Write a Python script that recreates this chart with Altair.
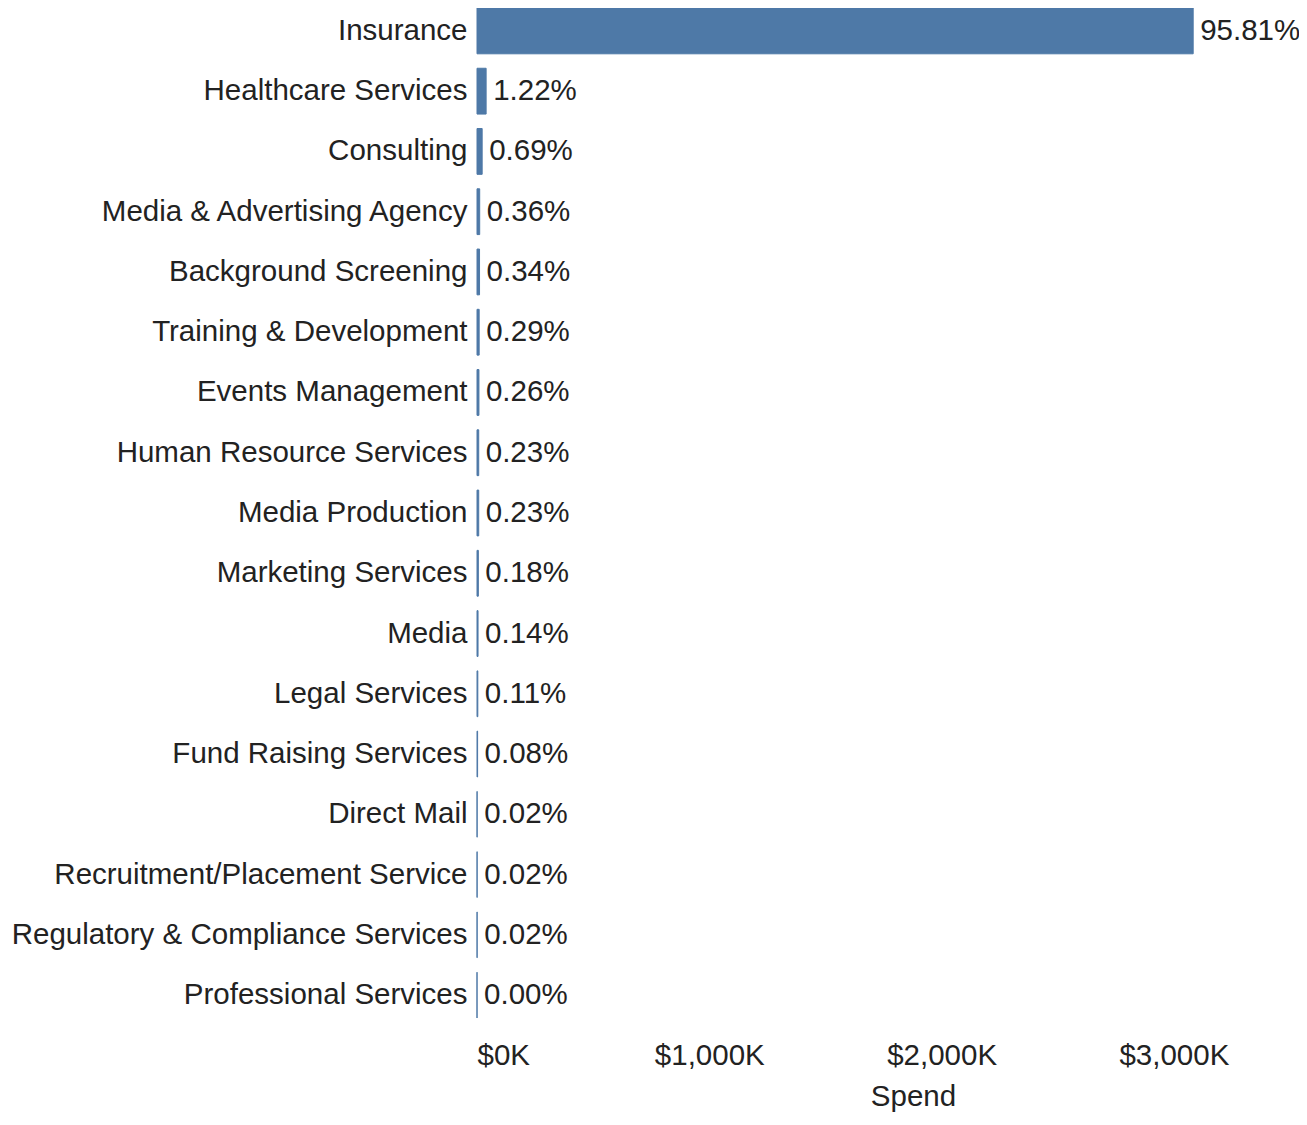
import altair as alt
import pandas as pd

categories = [
    "Insurance",
    "Healthcare Services",
    "Consulting",
    "Media & Advertising Agency",
    "Background Screening",
    "Training & Development",
    "Events Management",
    "Human Resource Services",
    "Media Production",
    "Marketing Services",
    "Media",
    "Legal Services",
    "Fund Raising Services",
    "Direct Mail",
    "Recruitment/Placement Service",
    "Regulatory & Compliance Services",
    "Professional Services",
]

# Spend in dollars (estimated from bar lengths / percentages)
spend = [
    3083000, 39300, 22200, 11600, 10900, 9300, 8400, 7400, 7400,
    5800, 4500, 3500, 2600, 600, 600, 600, 100,
]

pct_labels = [
    "95.81%", "1.22%", "0.69%", "0.36%", "0.34%", "0.29%", "0.26%",
    "0.23%", "0.23%", "0.18%", "0.14%", "0.11%", "0.08%", "0.02%",
    "0.02%", "0.02%", "0.00%",
]

tick_values = [0, 1000000, 2000000, 3000000]

df = pd.DataFrame({"Category": categories, "Spend": spend, "Pct": pct_labels})

FONT = "Liberation Sans, Arial, sans-serif"
FS = 29.5
TEXT = "#222222"
BLUE = "#4e79a7"

y_enc = alt.Y(
    "Category:N",
    sort=categories,
    title=None,
    scale=alt.Scale(paddingInner=0.24, paddingOuter=0),
    axis=alt.Axis(
        labelFont=FONT, labelFontSize=FS, labelColor=TEXT,
        labelPadding=10, ticks=False, domain=False, labelLimit=700,
    ),
)

x_enc = alt.X(
    "Spend:Q",
    scale=alt.Scale(domain=[0, 3538500], nice=False, zero=True),
    axis=alt.Axis(
        values=tick_values,
        labelExpr="'$' + format(datum.value / 1000, ',') + 'K'",
        labelFlush=True, grid=False, ticks=False, domain=False,
        labelFont=FONT, labelFontSize=FS, labelColor=TEXT, labelPadding=23,
        title="Spend", titleFont=FONT, titleFontSize=FS,
        titleFontWeight="normal", titleColor=TEXT, titlePadding=13,
        titleX=436, titleAlign="center",
    ),
)

bars = alt.Chart(df).mark_bar(color=BLUE, stroke=BLUE, strokeWidth=1).encode(
    x=x_enc, y=y_enc
)

text = alt.Chart(df).mark_text(
    align="left", baseline="middle", dx=7, font=FONT, fontSize=FS, color=TEXT
).encode(
    x="Spend:Q",
    y=alt.Y("Category:N", sort=categories),
    text="Pct:N",
)

chart = (
    (bars + text)
    .properties(
        width=822,
        height=1010,
        autosize=alt.AutoSizeParams(type="none"),
        padding={"left": 469, "top": 0, "right": 0, "bottom": 97},
    )
    .configure_view(stroke=None)
)

chart.save("out.html", embed_options={"renderer": "svg", "actions": False})
